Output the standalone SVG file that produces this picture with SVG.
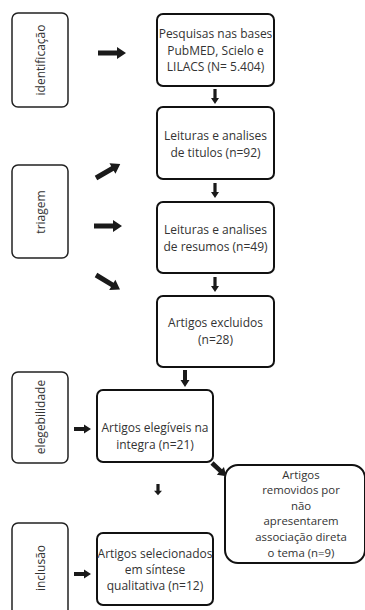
<svg xmlns="http://www.w3.org/2000/svg" xmlns:xlink="http://www.w3.org/1999/xlink" width="365" height="610" viewBox="0 0 365 610">
<style>
.box{fill:#fff;stroke:#111;stroke-width:2}
.side{fill:#fff;stroke:#222;stroke-width:1.5}
.t{font-family:"Open Sans","Noto Sans",sans-serif;font-size:12px;fill:#333;text-anchor:middle}
.r{font-size:11.4px}
.v{font-family:"Open Sans","Noto Sans",sans-serif;font-size:12px;fill:#333;text-anchor:middle;dominant-baseline:central}
.a{fill:#1a1a1a}
</style>
<defs>
<path id="arr" d="M0,-2.5 H19 V-6 L28,0 L19,6 V2.5 H0 Z"/>
<path id="arrS" d="M0,-2 H10 V-4.5 L17,0 L10,4.5 V2 H0 Z"/>
<path id="arrD" d="M0,-1.6 H9 V-4 L15,0 L9,4 V1.6 H0 Z"/>
</defs>
<rect width="365" height="610" fill="#fff"/>
<g id="identificacao"><rect class="side" x="12" y="13" width="56" height="94" rx="6"/><text class="v" transform="translate(40,60) rotate(-90)">identificação</text></g>
<g id="triagem"><rect class="side" x="12" y="165" width="56" height="93" rx="6"/><text class="v" transform="translate(40,212) rotate(-90)">triagem</text></g>
<g id="elegebilidade"><rect class="side" x="12" y="372" width="56" height="91" rx="6"/><text class="v" transform="translate(40,417) rotate(-90)">elegebilidade</text></g>
<g id="inclusao"><rect class="side" x="12" y="523" width="56" height="100" rx="6"/><text class="v" transform="translate(40,568) rotate(-90)">inclusão</text></g>
<g id="pesquisas"><rect class="box" x="157" y="14" width="117" height="72" rx="6"/><text class="t" x="215.5" y="38">Pesquisas nas bases</text><text class="t" x="215.5" y="54.5">PubMED, Scielo e</text><text class="t" x="215.5" y="71">LILACS (N= 5.404)</text></g>
<g id="titulos"><rect class="box" x="157" y="107" width="117" height="72" rx="6"/><text class="t" x="215.5" y="140">Leituras e analises</text><text class="t" x="215.5" y="157">de titulos (n=92)</text></g>
<g id="resumos"><rect class="box" x="157" y="202" width="117" height="71" rx="6"/><text class="t" x="215.5" y="234">Leituras e analises</text><text class="t" x="215.5" y="251">de resumos (n=49)</text></g>
<g id="excluidos"><rect class="box" x="157" y="296" width="117" height="71" rx="6"/><text class="t" x="215.5" y="327">Artigos excluidos</text><text class="t" x="215.5" y="344">(n=28)</text></g>
<g id="elegiveis"><rect class="box" x="97" y="390" width="116" height="72" rx="6"/><text class="t" x="155" y="432">Artigos elegíveis na</text><text class="t" x="155" y="449">integra (n=21)</text></g>
<g id="removidos"><rect class="box" x="225" y="465" width="140" height="98" rx="13"/><text class="t r" x="301" y="478.5">Artigos</text><text class="t r" x="301" y="494.1">removidos por</text><text class="t r" x="301" y="509.7">não</text><text class="t r" x="301" y="525.3">apresentarem</text><text class="t r" x="301" y="540.9">associação direta</text><text class="t r" x="301" y="556.5">o tema (n=9)</text></g>
<g id="selecionados"><rect class="box" x="97" y="533" width="116" height="72" rx="6"/><text class="t" x="155" y="558">Artigos selecionados</text><text class="t" x="155" y="574">em síntese</text><text class="t" x="155" y="590">qualitativa (n=12)</text></g>
<g id="connectors" class="a">
<use xlink:href="#arr" transform="translate(98,53)"/>
<use xlink:href="#arr" transform="translate(96,178) rotate(-30)"/>
<use xlink:href="#arr" transform="translate(94,226)"/>
<use xlink:href="#arr" transform="translate(96,275) rotate(31)"/>
<use xlink:href="#arrD" transform="translate(215,89) rotate(90)"/>
<use xlink:href="#arrD" transform="translate(215,183) rotate(90)"/>
<use xlink:href="#arrD" transform="translate(215,277) rotate(90)"/>
<use xlink:href="#arrS" transform="translate(185,370) rotate(90)"/>
<use xlink:href="#arrS" transform="translate(74,429)"/>
<use xlink:href="#arrS" transform="translate(212,463) rotate(43) scale(1.15)"/>
<use xlink:href="#arrD" transform="translate(158,484) rotate(90) scale(0.75,1)"/>
<use xlink:href="#arrS" transform="translate(74,574)"/>
</g>
</svg>
